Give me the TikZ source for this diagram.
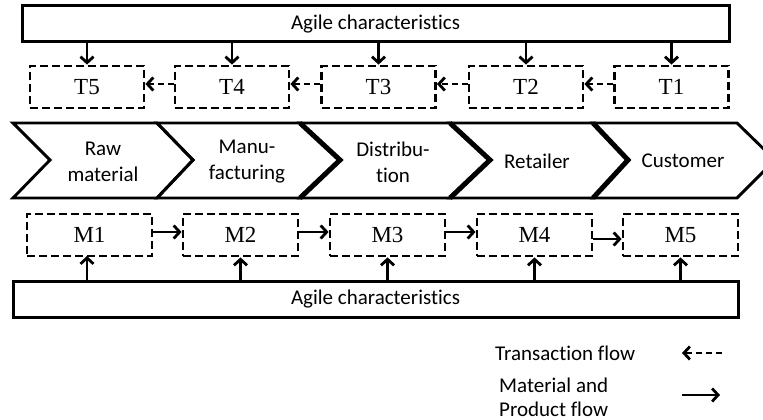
\documentclass[tikz,border=0pt]{standalone}
\usepackage{fontspec}
\setmainfont{Carlito}[Ligatures=NoCommon]
\newfontfamily\serifface{Liberation Serif}
\usetikzlibrary{arrows.meta,calc}
\begin{document}
\begin{tikzpicture}[x=1pt,y=-1pt,
  agile/.style={draw, line width=3pt, minimum height=36pt, inner sep=0pt, font=\fontsize{21}{24}\selectfont},
  tbox/.style={draw, line width=2.8pt, dash pattern=on 8pt off 4pt, minimum height=42pt, minimum width=114pt, inner sep=0pt, font=\serifface\fontsize{23}{26}\selectfont},
  arr/.style={line width=2.8pt, -{Straight Barb[length=6pt,width=13pt]}},
  darr/.style={arr, dash pattern=on 6pt off 4pt},
  chev/.style={line width=2.9pt, line join=miter},
  chevthick/.style={line width=5pt, line join=miter},
  lbl/.style={align=center, font=\fontsize{21}{26}\selectfont, inner sep=0pt},
]
\useasboundingbox[fill=white] (0,0) rectangle (763,420);

% top agile box
\node[agile, minimum width=707pt] (topbox) at (375.5,24) {Agile characteristics};

% transaction boxes
\node[tbox] (T5) at (87,87) {T5};
\node[tbox] (T4) at (232,87) {T4};
\node[tbox] (T3) at (378.5,87) {T3};
\node[tbox] (T2) at (526,87) {T2};
\node[tbox] (T1) at (671.5,87) {T1};

\foreach \t in {T1,T2,T3,T4,T5}
  \draw[arr] (\t.north |- topbox.south) -- (\t.north);

\draw[darr] ([yshift=3pt]T1.west) -- ([yshift=3pt]T2.east);
\draw[darr] ([yshift=3pt]T2.west) -- ([yshift=3pt]T3.east);
\draw[darr] ([yshift=3pt]T3.west) -- ([yshift=3pt]T4.east);
\draw[darr] ([yshift=3pt]T4.west) -- ([yshift=3pt]T5.east);

% chevrons
\draw[chev] (13,123) -- (157,123) -- (193,160) -- (157,198) -- (13,198) -- (50,160) -- cycle;
\draw[chev] (157,123) -- (300,123) -- (340,160) -- (300,198) -- (157,198) -- (193,160) -- cycle;
\draw[chev] (300,123) -- (450,123) -- (490,160) -- (450,198) -- (300,198) -- (340,160) -- cycle;
\draw[chev] (450,123) -- (593,123) -- (628,160) -- (593,198) -- (450,198) -- (490,160) -- cycle;
\draw[chev] (593,123) -- (737,123) -- (775,160) -- (737,198) -- (593,198) -- (628,160) -- cycle;
\draw[chevthick] (300,123) -- (340,160) -- (300,198);
\draw[chevthick] (450,123) -- (490,160) -- (450,198);
\draw[chevthick] (593,123) -- (628,160) -- (593,198);

\node[lbl] (raw) at (103,162) {Raw\\material};
\node[lbl] (manu) at (247,162) {Manu-\\facturing};
\node[lbl] (dist) at (393,162) {Distribu-\\tion};
\node[lbl] (ret) at (537,161) {Retailer};
\node[lbl] (cust) at (683,161) {Customer};

% material boxes
\node[tbox, minimum width=125pt] (M1) at (89.5,235) {M1};
\node[tbox, minimum width=115pt] (M2) at (240.5,235) {M2};
\node[tbox, minimum width=115pt] (M3) at (387.5,235) {M3};
\node[tbox, minimum width=115pt] (M4) at (534.5,235) {M4};
\node[tbox, minimum width=115pt] (M5) at (680.5,235) {M5};

\draw[arr] ([yshift=3pt]M1.east) -- ([yshift=3pt]M2.west);
\draw[arr] ([yshift=3pt]M2.east) -- ([yshift=3pt]M3.west);
\draw[arr] ([yshift=3pt]M3.east) -- ([yshift=3pt]M4.west);
\draw[arr] ([yshift=-4pt]M4.east) -- ([yshift=-4pt]M5.west);

% bottom agile box
\node[agile, minimum width=725pt] (botbox) at (375.5,299) {Agile characteristics};

\draw[arr] (87,281) -- (87,256);
\foreach \m in {M2,M3,M4,M5}
  \draw[arr] (\m.south |- botbox.north) -- (\m.south);

% legend
\node[lbl, anchor=west] (leg1) at (495,353) {Transaction flow};
\coordinate (l1a) at (722,353);
\coordinate (l1b) at (682,353);
\draw[darr] (l1a) -- (l1b);
\node[lbl, anchor=west, align=left, font=\fontsize{21}{24}\selectfont] (leg2) at (499,397) {Material and\\Product flow};
\coordinate (l2a) at (682,395);
\coordinate (l2b) at (720,395);
\draw[arr] (l2a) -- (l2b);
\end{tikzpicture}
\end{document}
